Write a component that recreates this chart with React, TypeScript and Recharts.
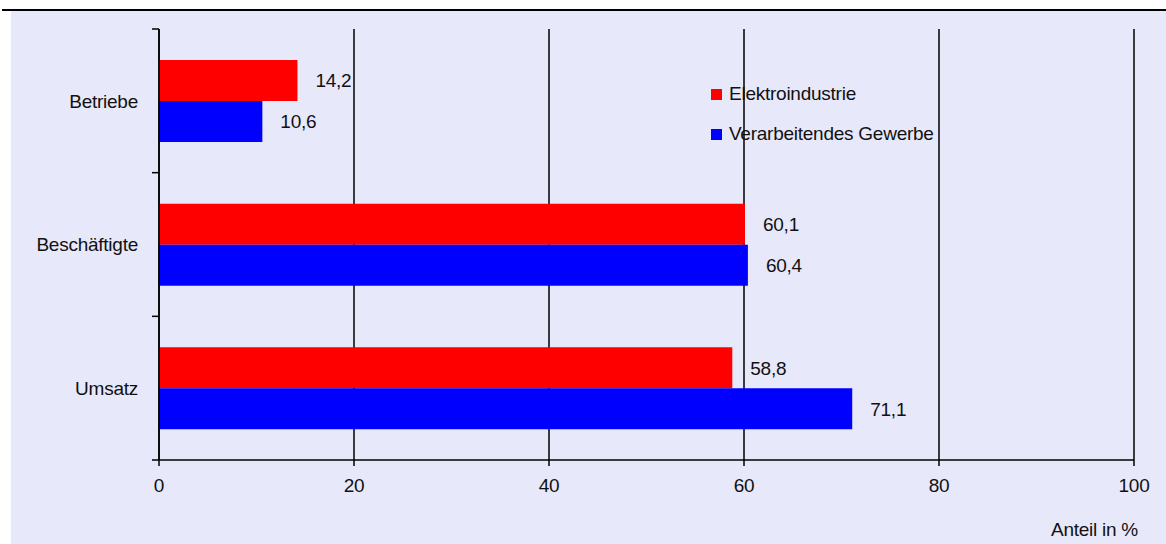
import React from 'react';
import { BarChart, Bar, XAxis, YAxis, CartesianGrid, LabelList, Legend, Label } from 'recharts';

const categories = ['Betriebe', 'Beschäftigte', 'Umsatz'];
const elektroindustrie = [14.2, 60.1, 58.8];
const verarbeitendesGewerbe = [10.6, 60.4, 71.1];
const xTicks = [0, 20, 40, 60, 80, 100];
const seriesNames = ['Elektroindustrie', 'Verarbeitendes Gewerbe'];
const seriesColors = ['#FF0000', '#0000FF'];
const axisTitle = 'Anteil  in %';

const data = categories.map((c, i) => ({
  category: c,
  elektro: elektroindustrie[i],
  gewerbe: verarbeitendesGewerbe[i],
}));

const FONT = '"Liberation Sans", Arial, sans-serif';
const FS = 19;
const LS = -0.25;
const TICK_SIZE = 7;
const TICK_MARGIN = 14;

const fmt = (v: any) => (typeof v === 'number' ? v.toFixed(1).replace('.', ',') : v);

const CategoryTick = (props: any) => {
  const { x, y, payload, index, visibleTicksCount } = props;
  const half = payload && typeof payload.offset === 'number' ? payload.offset : 0;
  const x1 = x + TICK_MARGIN;
  const x2 = x1 + TICK_SIZE;
  const isLast = index === (visibleTicksCount ?? categories.length) - 1;
  return (
    <g>
      <line x1={x1} x2={x2} y1={y - half} y2={y - half} stroke="#000" strokeWidth={1.5} />
      {isLast && <line x1={x1} x2={x2} y1={y + half} y2={y + half} stroke="#000" strokeWidth={1.5} />}
      <text x={x} y={y} dy="0.355em" textAnchor="end" fill="#111" fontSize={FS} fontFamily={FONT} letterSpacing={LS}>
        {payload.value}
      </text>
    </g>
  );
};

const LegendContent = (props: any) => {
  const payload = props.payload || [];
  return (
    <div style={{ fontFamily: FONT, fontSize: FS, letterSpacing: LS, color: '#111' }}>
      {payload.map((p: any, i: number) => (
        <div key={i} style={{ height: 40, display: 'flex', alignItems: 'center', whiteSpace: 'nowrap' }}>
          <span style={{ display: 'inline-block', width: 11, height: 11, background: p.color, marginRight: 7 }} />
          <span>{p.value}</span>
        </div>
      ))}
    </div>
  );
};

const AxisTitle = (props: any) => {
  const vb = props.viewBox || { x: 0, y: 0, width: 0, height: 0 };
  return (
    <text x={vb.x + vb.width + 4} y={vb.y + 76} textAnchor="end" fill="#111" fontSize={FS} fontFamily={FONT} letterSpacing={LS}>
      {axisTitle}
    </text>
  );
};

export default function App() {
  return (
    <div style={{ position: 'absolute', left: 0, top: 0, width: 1166, height: 544, background: '#fff', overflow: 'hidden' }}>
      <div style={{ position: 'absolute', left: 2, top: 9, width: 1164, height: 2, background: '#000' }} />
      <div style={{ position: 'absolute', left: 11, top: 11, width: 1155, height: 533, background: '#E8E8FB' }} />
      <div style={{ position: 'absolute', left: 0, top: 0 }}>
        <BarChart
          width={1166}
          height={544}
          data={data}
          layout="vertical"
          margin={{ top: 29, right: 32, bottom: 0, left: 0 }}
          barGap={0}
          barSize={41}
        >
          <CartesianGrid horizontal={false} vertical={true} stroke="#000" strokeWidth={1.5} />
          <XAxis
            type="number"
            domain={[0, 100]}
            ticks={xTicks}
            height={84}
            axisLine={{ stroke: '#000', strokeWidth: 1.5 }}
            tickLine={{ stroke: '#000', strokeWidth: 1.5 }}
            tickSize={6}
            tickMargin={13}
            tick={{ fill: '#111', fontSize: FS, fontFamily: FONT, letterSpacing: LS }}
            interval={0}
          >
            <Label content={<AxisTitle />} />
          </XAxis>
          <XAxis
            xAxisId="top"
            orientation="top"
            type="number"
            domain={[0, 100]}
            height={0}
            tick={false}
            tickLine={false}
            axisLine={{ stroke: '#808080', strokeWidth: 1.5 }}
          />
          <YAxis
            type="category"
            dataKey="category"
            width={159}
            axisLine={{ stroke: '#000', strokeWidth: 1.5 }}
            tickLine={false}
            tickSize={TICK_SIZE}
            tickMargin={TICK_MARGIN}
            tick={<CategoryTick />}
            interval={0}
          />
          <Legend
            layout="vertical"
            align="center"
            verticalAlign="middle"
            content={<LegendContent />}
            wrapperStyle={{ position: 'absolute', left: 711, top: 74, width: 280, height: 80 }}
          />
          <Bar dataKey="elektro" name={seriesNames[0]} fill={seriesColors[0]} isAnimationActive={false}>
            <LabelList dataKey="elektro" position="right" offset={18} formatter={fmt} fill="#111" fontSize={FS} fontFamily={FONT} letterSpacing={LS} />
          </Bar>
          <Bar dataKey="gewerbe" name={seriesNames[1]} fill={seriesColors[1]} isAnimationActive={false}>
            <LabelList dataKey="gewerbe" position="right" offset={18} formatter={fmt} fill="#111" fontSize={FS} fontFamily={FONT} letterSpacing={LS} />
          </Bar>
        </BarChart>
      </div>
    </div>
  );
}
